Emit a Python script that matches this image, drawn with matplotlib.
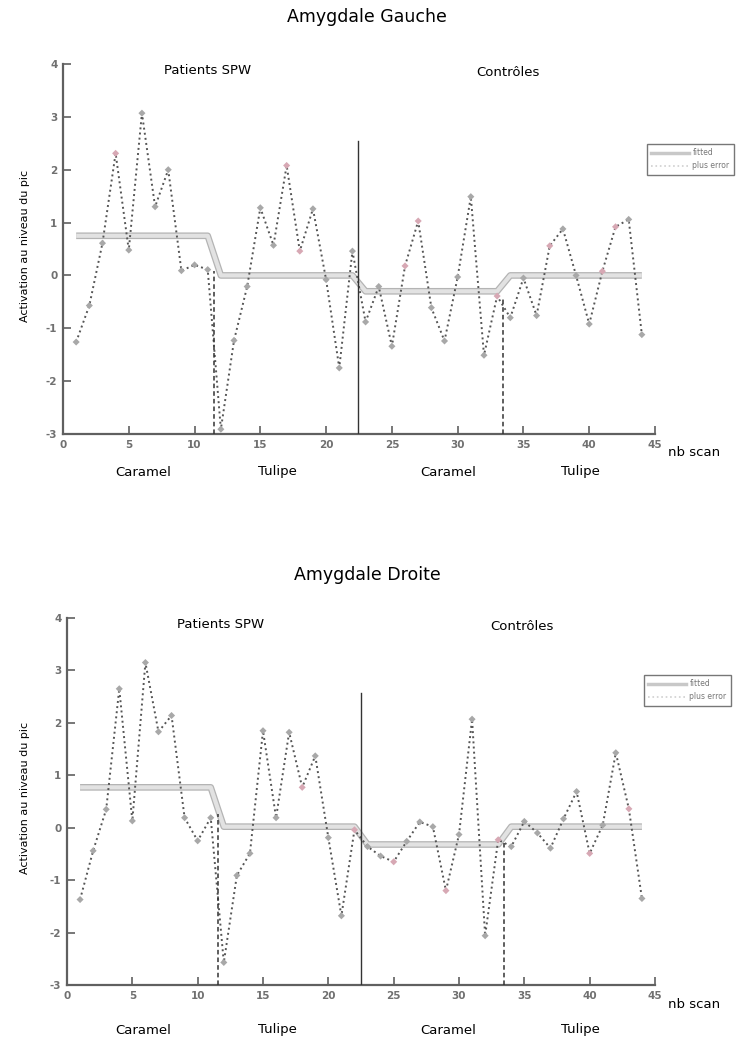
import numpy as np
import matplotlib
matplotlib.use("Agg")
import matplotlib.pyplot as plt
from matplotlib.lines import Line2D

plt.rcParams["axes.unicode_minus"] = False

# ------------------------------------
# data
# ------------------------------------
scans = np.arange(1, 45)

gauche_err = [-1.26, -0.57, 0.61, 2.31, 0.48, 3.07, 1.30, 2.00, 0.09, 0.20,
              0.11, -2.91, -1.23, -0.21, 1.28, 0.57, 2.08, 0.46, 1.26, -0.08,
              -1.75, 0.46, -0.88, -0.21, -1.34, 0.18, 1.03, -0.61, -1.24, -0.03,
              1.49, -1.51, -0.39, -0.80, -0.05, -0.76, 0.56, 0.88, 0.00, -0.92,
              0.08, 0.92, 1.06, -1.12]
gauche_fit = [0.75] * 11 + [0.0] * 11 + [-0.30] * 11 + [0.0] * 11
gauche_pink = [4, 17, 18, 26, 27, 33, 37, 41, 42]

droite_err = [-1.37, -0.44, 0.35, 2.65, 0.13, 3.15, 1.83, 2.14, 0.19, -0.25,
              0.19, -2.57, -0.91, -0.49, 1.85, 0.19, 1.82, 0.77, 1.37, -0.19,
              -1.68, -0.04, -0.36, -0.54, -0.65, -0.26, 0.11, 0.02, -1.20, -0.13,
              2.07, -2.06, -0.23, -0.36, 0.12, -0.10, -0.39, 0.17, 0.69, -0.49,
              0.05, 1.43, 0.36, -1.35]
droite_fit = [0.77] * 11 + [0.02] * 11 + [-0.32] * 11 + [0.02] * 11
droite_pink = [18, 22, 25, 29, 33, 40, 43]

# separators: solid group line, dashed condition lines (x, top)
gauche_group = (22.4, 2.54)
gauche_dash = [(11.45, 0.08), (33.45, -0.45)]
droite_group = (22.5, 2.57)
droite_dash = [(11.55, 0.27), (33.45, -0.30)]

W, H = 739, 1041
fig = plt.figure(figsize=(W / 100, H / 100), dpi=100)


def fx(px):
    return px / W


def fy(py):
    return 1 - py / H


def panel(rect, err, fit, pink, group, dashes):
    ax = fig.add_axes(rect)
    ax.plot(scans, fit, "-", color="#b4b4b4", lw=4.8, solid_capstyle="butt", zorder=2)
    ax.plot(scans, fit, "-", color="#e2e2e2", lw=3.0, solid_capstyle="butt", zorder=3)
    ax.plot(scans, err, ":", color="#555555", lw=1.4, zorder=4)
    cols = ["#d7a8b4" if s in pink else "#a8a8a8" for s in scans]
    ax.scatter(scans, err, marker="D", s=13, c=cols, edgecolors="none", zorder=5)
    ax.plot([group[0], group[0]], [-3, group[1]], "-", color="#333333", lw=1.0, zorder=6)
    for xd, yd in dashes:
        ax.plot([xd, xd], [-3, yd], "--", color="#333333", lw=1.1,
                dashes=(3, 2), zorder=6)
    ax.set_xlim(0, 45)
    ax.set_ylim(-3, 4)
    ax.set_xticks(range(0, 46, 5))
    ax.set_yticks(range(-3, 5))
    for s in ["top", "right"]:
        ax.spines[s].set_visible(False)
    for s in ["left", "bottom"]:
        ax.spines[s].set_color("#606060")
        ax.spines[s].set_linewidth(1.6)
    ax.tick_params(direction="in", length=6, width=1.2, color="#606060",
                   labelsize=7.5, labelcolor="#707070", pad=4)
    for lab in ax.get_xticklabels() + ax.get_yticklabels():
        lab.set_fontweight("bold")
    return ax


def legend_at(x0, y0):
    handles = [Line2D([], [], color="#c8c8c8", lw=2.5),
               Line2D([], [], color="#d0d0d0", lw=1.2, ls=":")]
    leg = fig.legend(handles, ["fitted", "plus error"], loc="upper right",
                     bbox_to_anchor=(fx(x0), fy(y0)), fontsize=5.5,
                     frameon=True, fancybox=False, borderpad=0.6,
                     handlelength=5.0, labelspacing=0.5, handletextpad=0.4)
    leg.get_frame().set_edgecolor("#555555")
    leg.get_frame().set_linewidth(1.0)
    for t in leg.get_texts():
        t.set_color("#777777")


def labels(dy, title, spw, ctl, ylab_y, nb_y):
    fig.text(fx(367), fy(17 + dy), title, ha="center", va="center", fontsize=12.5)
    fig.text(fx(spw[0]), fy(spw[1]), "Patients SPW", ha="center", va="center", fontsize=9.5)
    fig.text(fx(ctl[0]), fy(ctl[1]), "Contrôles", ha="center", va="center", fontsize=9.5)
    fig.text(fx(25), fy(ylab_y), "Activation au niveau du pic", rotation=90,
             ha="center", va="center", fontsize=8)
    fig.text(fx(668), fy(nb_y), "nb scan", ha="left", va="center", fontsize=9.5)
    for xc, name in [(143, "Caramel"), (277, "Tulipe"), (448, "Caramel"), (580, "Tulipe")]:
        fig.text(fx(xc), fy(472 + dy), name, ha="center", va="center", fontsize=9.5)


# top panel : Amygdale Gauche
panel([fx(63), fy(434), fx(655) - fx(63), fy(64) - fy(434)],
      gauche_err, gauche_fit, gauche_pink, gauche_group, gauche_dash)
legend_at(738, 140)
labels(0, "Amygdale Gauche", (208, 71), (508, 73), 246, 453)

# bottom panel : Amygdale Droite
panel([fx(67), fy(985), fx(655) - fx(67), fy(618) - fy(985)],
      droite_err, droite_fit, droite_pink, droite_group, droite_dash)
legend_at(735, 671)
labels(558, "Amygdale Droite", (221, 625), (522, 627), 798, 1004)

fig.savefig("out.png", dpi=100)
